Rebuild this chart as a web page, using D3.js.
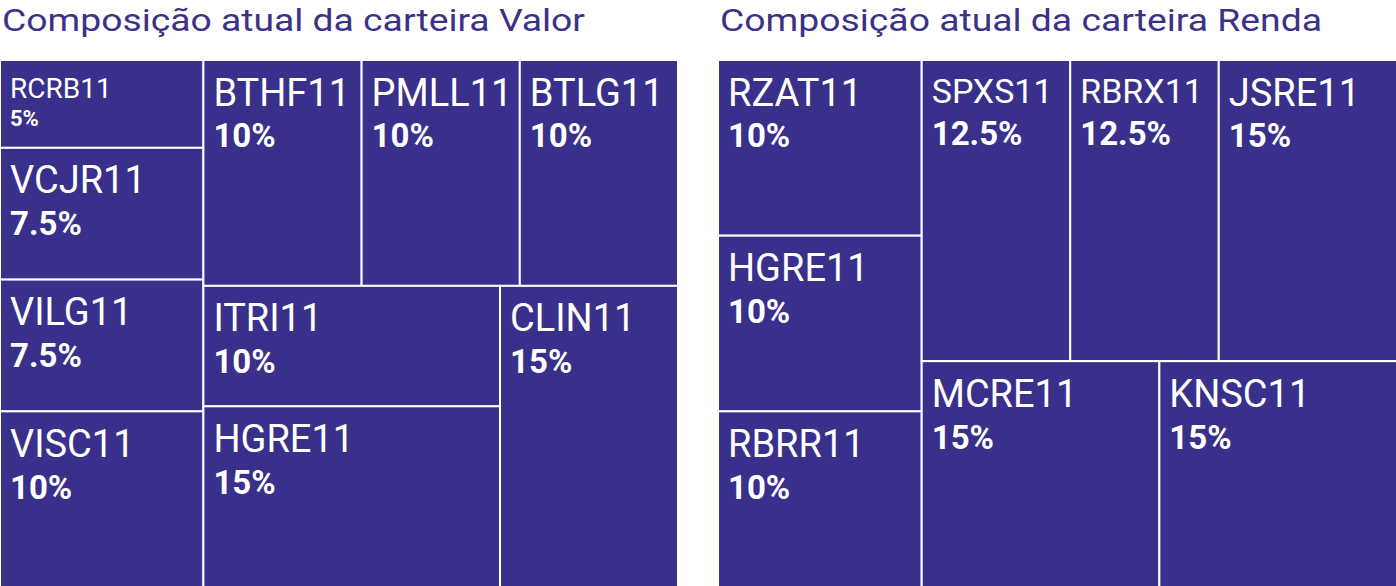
<!DOCTYPE html>
<html>
<head>
<meta charset="utf-8">
<script src="https://cdn.jsdelivr.net/npm/d3@7"></script>
<style>
  html, body { margin: 0; padding: 0; background: #ffffff; }
  svg { display: block; }
</style>
</head>
<body>
<svg id="chart" width="1396" height="586"></svg>
<script>
// ---- Data ----
const valorTitle = "Composição atual da carteira Valor";
const valorNames = ["RCRB11", "VCJR11", "VILG11", "VISC11", "BTHF11", "PMLL11", "BTLG11", "ITRI11", "HGRE11", "CLIN11"];
const valorWeights = [5, 7.5, 7.5, 10, 10, 10, 10, 10, 15, 15];
const valorGroups = ["a", "a", "a", "a", "b/top", "b/top", "b/top", "b/bottom/c", "b/bottom/c", "b/bottom"];

const rendaTitle = "Composição atual da carteira Renda";
const rendaNames = ["RZAT11", "HGRE11", "RBRR11", "SPXS11", "RBRX11", "JSRE11", "MCRE11", "KNSC11"];
const rendaWeights = [10, 10, 10, 12.5, 12.5, 15, 15, 15];
const rendaGroups = ["a", "a", "a", "b/top", "b/top", "b/top", "b/bottom", "b/bottom"];

// ---- Helpers ----
const FILL = "#38308a";
const TITLE_COLOR = "#3b3288";

function buildTree(names, weights, groups) {
  const root = { name: "root", children: [] };
  names.forEach((n, i) => {
    let node = root;
    groups[i].split("/").forEach(g => {
      let child = node.children.find(c => c.name === g && c.children);
      if (!child) { child = { name: g, children: [] }; node.children.push(child); }
      node = child;
    });
    node.children.push({ name: n, value: weights[i] });
  });
  return root;
}

const svg = d3.select("#chart");

function drawTreemap(title, names, weights, groups, x0, x1, y0, y1, titleWidth) {
  const g = svg.append("g");

  g.append("text")
    .attr("x", x0 + 2)
    .attr("y", 30.5)
    .attr("font-family", "Roboto, sans-serif")
    .attr("font-size", 32)
    .attr("fill", TITLE_COLOR)
    .attr("textLength", titleWidth)
    .attr("lengthAdjust", "spacingAndGlyphs")
    .text(title);

  const root = d3.hierarchy(buildTree(names, weights, groups)).sum(d => d.value || 0);
  d3.treemap()
    .tile(d3.treemapSliceDice)
    .size([x1 - x0, y1 - y0])
    .round(false)(root);

  const leaves = root.leaves();
  const cell = g.append("g")
    .attr("transform", `translate(${x0},${y0})`)
    .selectAll("g")
    .data(leaves)
    .join("g")
    .attr("transform", d => `translate(${d.x0},${d.y0})`);

  cell.append("rect")
    .attr("width", d => d.x1 - d.x0)
    .attr("height", d => d.y1 - d.y0)
    .attr("fill", FILL)
    .attr("stroke", "#ffffff")
    .attr("stroke-width", 2);

  const nameSize = d => {
    const w = d.x1 - d.x0, h = d.y1 - d.y0;
    if (h < 100) return 28;
    if (w < 152) return 34;
    return 38;
  };
  const pctSize = d => (d.y1 - d.y0) < 100 ? 22 : 33;
  const nameBase = d => 18.5 + 0.711 * nameSize(d);

  cell.append("text")
    .attr("x", 10)
    .attr("y", d => nameBase(d))
    .attr("font-family", "Roboto, sans-serif")
    .attr("font-size", d => nameSize(d))
    .attr("fill", "#ffffff")
    .text(d => d.data.name);

  cell.append("text")
    .attr("x", 10)
    .attr("y", d => nameBase(d) + pctSize(d) * 1.27)
    .attr("font-family", "Roboto, sans-serif")
    .attr("font-weight", "bold")
    .attr("font-size", d => pctSize(d))
    .attr("fill", "#ffffff")
    .text(d => d.data.value + "%");
}

drawTreemap(valorTitle, valorNames, valorWeights, valorGroups, 0, 678, 60, 587, 583);
drawTreemap(rendaTitle, rendaNames, rendaWeights, rendaGroups, 718, 1397, 60, 587, 602);
</script>
</body>
</html>
